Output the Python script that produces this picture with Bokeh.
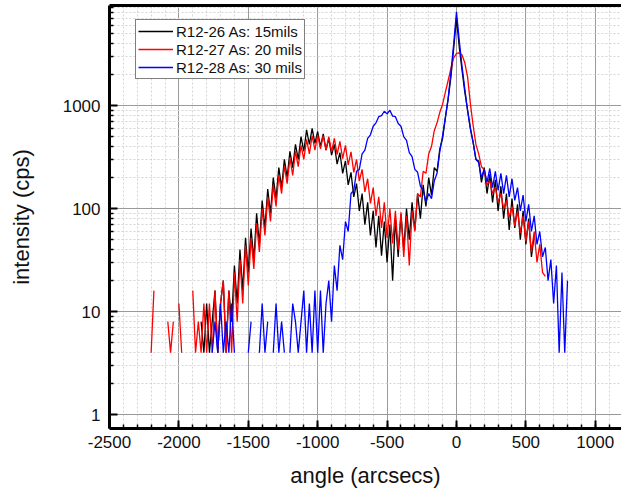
from bokeh.plotting import figure
from bokeh.models import Range1d, FixedTicker, LinearAxis, PrintfTickFormatter
from bokeh.embed import file_html
from bokeh.resources import INLINE

NA = float("nan")

ANGLE_STEP = 20  # arcsec between samples

# R12-26 As: 15mils (black), first angle -1880
BLACK_START = -1880
BLACK = [
    4, NA, 8, 4, 12, 4, 8, 16, 4, 12,
    20, 4, 16, 8, 28, 12, 40, 16, 52, 24,
    64, 32, 90, 45, 120, 65, 155, 90, 200, 125,
    250, 160, 300, 200, 360, 250, 420, 300, 500, 360,
    580, 420, 600, 430, 560, 400, 530, 370, 480, 330,
    420, 270, 350, 220, 290, 170, 225, 130, 175, 95,
    140, 70, 115, 55, 95, 42, 85, 35, 75, 30,
    70, 20, 80, 34, 88, 40, 100, 50, 115, 62,
    140, 80, 170, 105, 200, 135, 250, 230, 380, 480,
    760, 1150, 1900, 3600, 7000, 3700, 2200, 1350, 900, 600,
    440, 300, 290, 180, 250, 140, 215, 115, 190, 95,
    165, 80, 140, 62, 125, 65, 110, 50, 95, 45,
    80, 34, 55,
]

# R12-27 As: 20 mils (red), first angle -2200
RED_START = -2200
RED = [
    4, 16, NA, NA, 4, NA, 8, 4, 8, NA,
    12, 4, NA, 8, NA, 16, 4, 8, 4, 12,
    4, 12, 4, 16, 4, 12, 20, 4, 16, 4,
    24, 8, 32, 12, 44, 18, 52, 26, 72, 38,
    100, 55, 130, 75, 170, 105, 210, 140, 260, 175,
    310, 210, 360, 255, 410, 300, 470, 340, 510, 370,
    520, 380, 510, 370, 500, 355, 480, 335, 450, 305,
    410, 265, 355, 225, 300, 185, 240, 145, 195, 112,
    160, 85, 130, 65, 115, 52, 100, 46, 95, 40,
    92, 34, 85, 28, 95, 60, 140, 130, 230, 220,
    340, 400, 570, 680, 860, 1030, 1350, 1750, 2300, 2900,
    3200, 3250, 3100, 2600, 1900, 1050, 640, 420, 340, 255,
    240, 170, 185, 140, 160, 115, 140, 100, 120, 82,
    105, 68, 95, 58, 85, 48, 75, 38, 60, 30,
    45, 24, 22,
]

# R12-28 As: 30 mils (blue), first angle -1760
BLUE_START = -1760
BLUE = [
    4, 8, 4, 12, 4, 8, 4, 12, 4, NA,
    NA, NA, NA, 4, 8, NA, NA, 4, 12, 4,
    8, NA, 4, 12, 4, 8, 4, NA, 4, 12,
    8, 4, 8, 16, 4, 12, 4, 16, 4, 16,
    4, 12, 20, 8, 28, 16, 44, 32, 75, 60,
    140, 150, 230, 240, 340, 370, 480, 520, 630, 680,
    780, 800, 880, 830, 900, 790, 780, 670, 630, 500,
    460, 350, 320, 240, 225, 165, 150, 115, 140, 125,
    185, 220, 360, 510, 770, 1180, 2100, 4000, 8100, 4300,
    2400, 1450, 900, 600, 440, 300, 280, 200, 240, 180,
    245, 160, 230, 150, 220, 140, 210, 130, 195, 120,
    160, 95, 135, 75, 110, 60, 85, 45, 60, 34,
    42, 20, 32, 12, 28, 4, 24, 4, 20,
]

SERIES_LABELS = ["R12-26 As: 15mils", "R12-27 As: 20 mils", "R12-28 As: 30 mils"]
SERIES_COLORS = ["#000000", "#ff0000", "#0000ff"]

X_MAJOR = [-2500, -2000, -1500, -1000, -500, 0, 500, 1000]
X_MINOR = list(range(-2500, 1201, 100))
Y_MAJOR = [1, 10, 100, 1000]
Y_MINOR = [m * d for d in (1, 10, 100, 1000) for m in range(2, 10)]


def angles(start, values):
    return [start + ANGLE_STEP * i for i in range(len(values))]


p = figure(
    width=621, height=492,
    y_axis_type="log",
    x_range=Range1d(-2500, 1189),
    y_range=Range1d(0.735, 9350),
    output_backend="svg",
    toolbar_location=None,
    min_border_left=109, min_border_right=0,
    min_border_top=5, min_border_bottom=64,
)
p.outline_line_color = None
p.background_fill_color = "white"
p.border_fill_color = "white"

for start, vals, lab, col in zip(
    [BLACK_START, RED_START, BLUE_START],
    [BLACK, RED, BLUE],
    SERIES_LABELS, SERIES_COLORS,
):
    p.line(angles(start, vals), vals, line_color=col, line_width=1.3, legend_label=lab)

xt = FixedTicker(ticks=X_MAJOR, minor_ticks=X_MINOR)
yt = FixedTicker(ticks=Y_MAJOR, minor_ticks=Y_MINOR)
p.xaxis.ticker = xt
p.yaxis.ticker = yt
p.xgrid.ticker = xt
p.ygrid.ticker = yt

for ax in (p.xaxis[0], p.yaxis[0]):
    ax.formatter = PrintfTickFormatter(format="%d")
    ax.axis_line_width = 3
    ax.axis_line_color = "black"
    ax.major_tick_in = 8
    ax.major_tick_out = 0
    ax.minor_tick_in = 4
    ax.minor_tick_out = 0
    ax.major_tick_line_width = 2
    ax.minor_tick_line_width = 1.5
    ax.major_tick_line_color = "black"
    ax.minor_tick_line_color = "black"
    ax.major_label_text_font = "Liberation Sans"
    ax.major_label_text_font_size = "17px"
    ax.major_label_text_color = "#111111"
    ax.axis_label_text_font = "Liberation Sans"
    ax.axis_label_text_font_size = "22px"
    ax.axis_label_text_font_style = "normal"
    ax.axis_label_text_color = "#111111"

p.xaxis.axis_label = "angle (arcsecs)"
p.yaxis.axis_label = "intensity (cps)"
p.xaxis.major_label_standoff = 7
p.xaxis.axis_label_standoff = 12
p.yaxis.major_label_standoff = 9
p.yaxis.axis_label_standoff = 26

top = LinearAxis(
    ticker=FixedTicker(ticks=[], minor_ticks=[]),
    major_label_text_font_size="0px",
    major_label_standoff=0,
    axis_line_width=3,
    axis_line_color="black",
    major_tick_line_color=None,
    minor_tick_line_color=None,
)
p.add_layout(top, "above")

for g in (p.xgrid[0], p.ygrid[0]):
    g.grid_line_color = "#9a9a9a"
    g.grid_line_width = 1
    g.minor_grid_line_color = "#d4d4d4"
    g.minor_grid_line_width = 1
    g.minor_grid_line_dash = "2 2"

lg = p.legend[0]
lg.location = (26, 349)
lg.label_text_font = "Liberation Sans"
lg.label_text_font_size = "15px"
lg.label_text_color = "#111111"
lg.glyph_width = 35
lg.glyph_height = 18
lg.label_height = 18
lg.label_standoff = 3
lg.spacing = 0
lg.padding = 2
lg.margin = 0
lg.border_line_color = "black"
lg.border_line_width = 1
lg.background_fill_color = "white"
lg.background_fill_alpha = 1.0

open("out.html", "w").write(file_html(p, INLINE))
